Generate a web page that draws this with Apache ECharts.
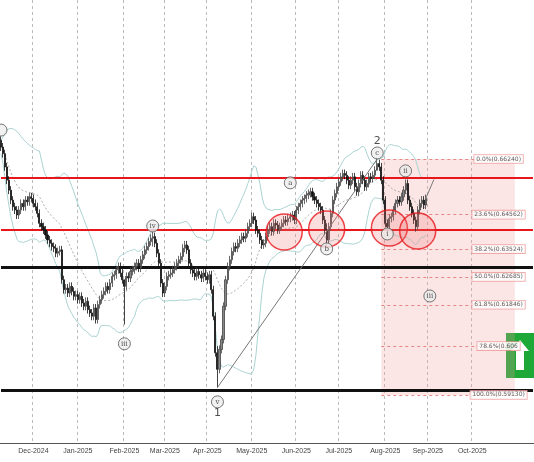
<!DOCTYPE html>
<html lang="en">
<head>
<meta charset="UTF-8">
<title>chart</title>
<script src="https://cdn.jsdelivr.net/npm/echarts@6/dist/echarts.min.js"></script>
</head>
<body style="margin:0">
<div id="main" style="width:534px;height:462px;"></div>
<script>
// daily closes per month
var nov = [0.6660,0.6640,0.6600,0.6560,0.6530,0.6500,0.6480,0.6470,0.6455,0.6470,0.6490,0.6480,0.6500,0.6495,0.6510,0.6505];
var dec = [0.6490,0.6480,0.6460,0.6430,0.6420,0.6410,0.6395,0.6380,0.6370,0.6360,0.6355,0.6340,0.6345,0.6350,0.6260,0.6230,0.6235,0.6220,0.6240,0.6225,0.6210,0.6215];
var jan = [0.6200,0.6210,0.6190,0.6180,0.6195,0.6170,0.6160,0.6150,0.6175,0.6140,0.6185,0.6200,0.6215,0.6225,0.6240,0.6230,0.6250,0.6270,0.6275,0.6290,0.6300,0.6280,0.6260];
var feb = [0.6240,0.6270,0.6265,0.6285,0.6290,0.6300,0.6310,0.6295,0.6320,0.6335,0.6350,0.6360,0.6375,0.6385,0.6390,0.6370,0.6340,0.6310,0.6250,0.6220];
var mar = [0.6240,0.6270,0.6275,0.6280,0.6290,0.6300,0.6310,0.6320,0.6330,0.6355,0.6365,0.6350,0.6310,0.6290,0.6280,0.6270,0.6285,0.6275,0.6265,0.6280,0.6270];
var apr = [0.6260,0.6275,0.6230,0.6150,0.6040,0.5990,0.6050,0.6080,0.6180,0.6260,0.6300,0.6320,0.6345,0.6360,0.6355,0.6370,0.6380,0.6390,0.6385,0.6400,0.6420,0.6430];
var may = [0.6450,0.6440,0.6410,0.6400,0.6380,0.6365,0.6370,0.6390,0.6410,0.6420,0.6405,0.6430,0.6425,0.6410,0.6420,0.6430,0.6440,0.6435,0.6445,0.6450,0.6455,0.6440];
var jun = [0.6470,0.6480,0.6490,0.6500,0.6505,0.6515,0.6520,0.6525,0.6510,0.6500,0.6490,0.6480,0.6470,0.6440,0.6410,0.6380,0.6420,0.6460,0.6500,0.6520,0.6540];
var jul = [0.6555,0.6570,0.6580,0.6575,0.6560,0.6545,0.6560,0.6570,0.6540,0.6525,0.6550,0.6575,0.6560,0.6540,0.6550,0.6570,0.6565,0.6575,0.6590,0.6610,0.6600,0.6560,0.6500];
var aug = [0.6430,0.6420,0.6445,0.6450,0.6470,0.6490,0.6500,0.6495,0.6510,0.6530,0.6550,0.6500,0.6480,0.6460,0.6440,0.6420,0.6470,0.6490,0.6500,0.6485,0.6505];
// long wicks: index -> [low, high]
var wicks = {61: [0.6125, 0.6260], 75: [0.6360, 0.6412], 107: [0.5935, 0.6060], 161: [0.6360, 0.6430], 186: [0.6595, 0.6628], 205: [0.6405, 0.6450]};

var hLines = [[0.6567, '#e8161b', 2], [0.6410, '#e8161b', 2], [0.6299, '#111', 3], [0.5928, '#111', 3]];
var fibNames = ['0.0%(0.66240)', '23.6%(0.64562)', '38.2%(0.63524)', '50.0%(0.62685)', '61.8%(0.61846)', '78.6%(0.606', '100.0%(0.59130)'];
var fibValues = [0.66240, 0.64562, 0.63524, 0.62685, 0.61846, 0.60600, 0.59130];
var circles = [[140, 0.6404], [161, 0.6413], [192, 0.6416], [206, 0.6407]];
var waveLabels = [['', 0, 0.6711], ['iii', 61, 0.6067], ['iv', 75, 0.6422], ['v', 107, 0.5892], ['a', 143, 0.6552],
    ['b', 161, 0.6353], ['c', 186, 0.6642], ['i', 191, 0.6398], ['ii', 200, 0.6588], ['iii', 212, 0.6211]];
var bigLabels = [['1', 107, 0.5859], ['2', 186, 0.6678]];

var closes = [].concat(nov, dec, jan, feb, mar, apr, may, jun, jul, aug);
var months = ['Jan','Feb','Mar','Apr','May','Jun','Jul','Aug','Sep','Oct','Nov','Dec'];
var days = [];
var d = new Date(Date.UTC(2024, 10, 8));
while (days.length < 264) {
    var wd = d.getUTCDay();
    if (wd != 0 && wd != 6) days.push(d.getUTCFullYear() + '-' + (d.getUTCMonth() + 1) + '-' + d.getUTCDate());
    d = new Date(d.getTime() + 86400000);
}
function isMonthStart(i) {
    if (i == 0 || i > 255) return false;
    return days[i].split('-')[1] != days[i - 1].split('-')[1];
}
var candles = [];
for (var i = 0; i < closes.length; i++) {
    var o = i == 0 ? 0.6680 : closes[i - 1];
    var c = closes[i];
    var lo = Math.min(o, c) - 0.0012, hi = Math.max(o, c) + 0.0012;
    if (wicks[i]) { lo = wicks[i][0]; hi = wicks[i][1]; }
    candles.push([o, c, lo, hi]);
}
// bollinger 20
var upper = [], mid = [], lower = [];
for (var i = 0; i < closes.length; i++) {
    var w = closes.slice(Math.max(0, i - 19), i + 1);
    var m = w.reduce(function (a, b) { return a + b; }, 0) / w.length;
    var s = Math.sqrt(w.reduce(function (a, b) { return a + (b - m) * (b - m); }, 0) / w.length);
    mid.push(m); upper.push(m + 2 * s + 0.002); lower.push(m - 2 * s - 0.002);
}

var series = [];
series.push({
    type: 'candlestick', data: candles, barWidth: 1.6, z: 5,
    itemStyle: {color: '#888', color0: '#111', borderColor: '#444', borderColor0: '#111', borderWidth: 0.8},
    markArea: {silent: true, itemStyle: {color: 'rgba(240,150,150,0.25)'},
        data: [[{xAxis: 188, yAxis: 0.66240}, {xAxis: 254, yAxis: 0.59130}]]}
});
series.push({
    type: 'line', data: [], silent: true,
    markLine: {silent: true, symbol: 'none', animation: false, label: {show: false},
        lineStyle: {color: '#e07070', width: 0.8, type: [3, 3]},
        data: fibValues.map(function (v) { return [{xAxis: 188, yAxis: v}, {xAxis: 254, yAxis: v}]; })}
});
series.push({
    type: 'line', data: [], silent: true, z: 6,
    markLine: {silent: true, symbol: 'none', animation: false, label: {show: false},
        data: hLines.map(function (h) {
            return [{xAxis: 0, yAxis: h[0], lineStyle: {color: h[1], width: h[2], type: 'solid'}}, {xAxis: 263, yAxis: h[0]}];
        })}
});
series.push({type: 'line', data: upper, symbol: 'none', lineStyle: {color: '#a9d3d2', width: 1}, silent: true});
series.push({type: 'line', data: lower, symbol: 'none', lineStyle: {color: '#a9d3d2', width: 1}, silent: true});
series.push({type: 'line', data: mid, symbol: 'none', lineStyle: {color: '#999', width: 0.8, type: [2, 2]}, silent: true});
series.push({type: 'scatter', data: circles, symbolSize: 36, z: 6, silent: true,
    itemStyle: {color: 'rgba(240,120,120,0.3)', borderColor: '#e8161b', borderWidth: 1.5}});
series.push({type: 'line', data: [[107, 0.5935], [186, 0.6624]], symbol: 'none', z: 6,
    lineStyle: {color: '#777', width: 1}, silent: true});
series.push({type: 'line', data: [[210, 0.6505], [214, 0.6562]], symbol: ['none', 'arrow'], symbolSize: 7, z: 6,
    showSymbol: true, lineStyle: {color: '#777', width: 1}, itemStyle: {color: '#222'}, silent: true});
series.push({type: 'scatter', z: 7, silent: true, symbolSize: 12,
    data: waveLabels.map(function (w) { return {value: [w[1], w[2]], name: w[0]}; }),
    itemStyle: {color: '#eee', borderColor: '#555', borderWidth: 1},
    label: {show: true, position: 'inside', formatter: '{b}', fontSize: 7, color: '#222', fontFamily: 'DejaVu Serif'}});
series.push({type: 'scatter', z: 7, silent: true, symbolSize: 1, itemStyle: {color: 'rgba(0,0,0,0)'},
    data: bigLabels.map(function (w) { return {value: [w[1], w[2]], name: w[0]}; }),
    label: {show: true, position: 'inside', formatter: '{b}', fontSize: 11, color: '#222', fontFamily: 'DejaVu Sans'}});
series.push({type: 'scatter', z: 7, silent: true, symbolSize: 1, itemStyle: {color: 'rgba(0,0,0,0)'},
    data: fibValues.map(function (v, k) { return {value: [246, v], name: fibNames[k]}; }),
    label: {show: true, position: 'inside', formatter: '{b}', fontSize: 6, color: '#333', fontFamily: 'DejaVu Sans',
        backgroundColor: '#fff', borderColor: '#e99', borderWidth: 0.8, padding: [1, 2]}});

var myChart = echarts.init(document.getElementById('main'));
myChart.setOption({
    animation: false,
    grid: {left: 0, right: 0, top: 0, bottom: 19},
    xAxis: {
        type: 'category', data: days, boundaryGap: true,
        axisLine: {lineStyle: {color: '#555'}}, axisTick: {show: false},
        axisLabel: {interval: function (i) { return isMonthStart(i); }, fontSize: 7, color: '#444', margin: 5,
            formatter: function (v) { var p = v.split('-'); return months[p[1] - 1] + '-' + p[0]; }},
        splitLine: {show: true, interval: function (i) { return isMonthStart(i); },
            lineStyle: {color: '#bbb', type: [3, 3], width: 1}}
    },
    yAxis: {type: 'value', min: 0.5768, max: 0.7103, show: false, splitLine: {show: false}},
    graphic: [
        {type: 'rect', right: 0, top: 333, shape: {width: 28, height: 45}, style: {fill: '#1ea838'}},
        {type: 'polygon', shape: {points: [[520, 340], [529, 351], [524, 351], [524, 370], [516, 370], [516, 351], [511, 351]]},
            style: {fill: '#fff'}}
    ],
    series: series
});
</script>
</body>
</html>
